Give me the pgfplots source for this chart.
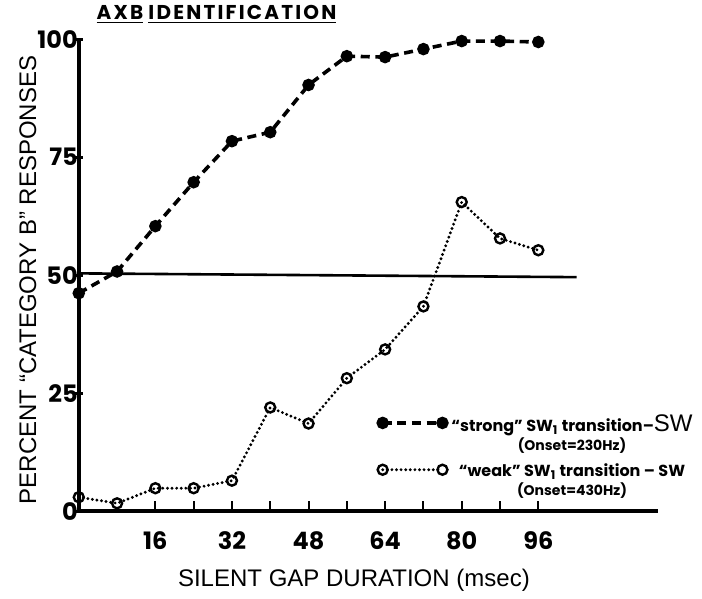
\documentclass[border=0pt]{standalone}
\usepackage{fontspec}
\setmainfont{Liberation Sans}
\newfontfamily\geo[Ligatures=TeX]{Poppins}
\newfontfamily\geot[Ligatures=TeX, LetterSpace=11]{Poppins}
\usepackage{pgfplots}
\pgfplotsset{compat=1.18}
\begin{document}
\begin{tikzpicture}
\begin{axis}[
  scale only axis, width=289.5pt, height=236pt,
  xmin=0, xmax=121, ymin=0, ymax=100,
  axis x line*=bottom, axis y line*=left,
  axis line style={line width=2pt, -},
  xtick={16,24,...,96}, xticklabels={16,,32,,48,,64,,80,,96},
  ytick={0,25,50,75,100},
  /pgf/number format/assume math mode=true,
  tick label style={font=\geo\bfseries\large},
  tick align=inside, major tick length=5pt,
  x tick style={line width=1pt, black},
  y tick style={line width=1.5pt, black, xshift=-3pt},
  xticklabel style={yshift=-6.5pt},
  yticklabel style={xshift=3pt},
  xlabel={SILENT GAP DURATION (msec)},
  ylabel={PERCENT ``CATEGORY B'' RESPONSES},
  label style={font=\large},
  xlabel style={at={(rel axis cs:0.475,-0.146)}, anchor=center},
  ylabel style={at={(rel axis cs:-0.088,0.49)}, anchor=center},
  clip=false,
  legend style={draw=none, fill=none, at={(rel axis cs:0.505,0.222)}, anchor=north west,
    font=\geo\bfseries\footnotesize, row sep=1pt, cells={align=center}},
  legend image code/.code={\draw[#1, yshift=0.2cm] plot coordinates {(0cm,0cm) (1.05cm,0cm)};},
]
\addplot[black, line width=1.8pt, dash pattern=on 4.5pt off 2.8pt, mark=*, mark size=2.2pt, mark options={solid}]
  coordinates {(0,46.2) (8,50.8) (16,60.4) (24,69.7) (32,78.4) (40,80.3) (48,90.3) (56,96.4) (64,96.2) (72,97.9) (80,99.6) (88,99.6) (96,99.4)};
\addlegendentry{``strong'' SW\textsubscript{1} transition--{\normalfont\mdseries\large SW}\\{\scriptsize(Onset=230Hz)}}
\addplot[black, line width=1.6pt, line cap=round, dash pattern=on 0pt off 2.3pt, mark=o, mark size=2.5pt, mark options={solid, fill=white, line width=1.2pt}]
  coordinates {(0,3.0) (8,1.7) (16,4.9) (24,4.9) (32,6.5) (40,22.0) (48,18.6) (56,28.2) (64,34.3) (72,43.4) (80,65.5) (88,57.8) (96,55.3)};
\addlegendentry{``weak'' SW\textsubscript{1} transition -- SW\\{\scriptsize(Onset=430Hz)}}
\addplot[black, line width=1.3pt, forget plot] coordinates {(0,50.4) (104,49.6)};
\node[font=\geot\bfseries] at (axis cs:8.6,105.2) {\underline{AXB}};
\node[font=\geot\bfseries] at (axis cs:34.2,105.2) {\underline{IDENTIFICATION}};
\coordinate (bbsw) at (rel axis cs:-0.136,-0.184);
\coordinate (bbne) at (rel axis cs:1.076,1.083);
\end{axis}
\pgfresetboundingbox
\path[use as bounding box] (bbsw) rectangle (bbne);
\end{tikzpicture}
\end{document}
